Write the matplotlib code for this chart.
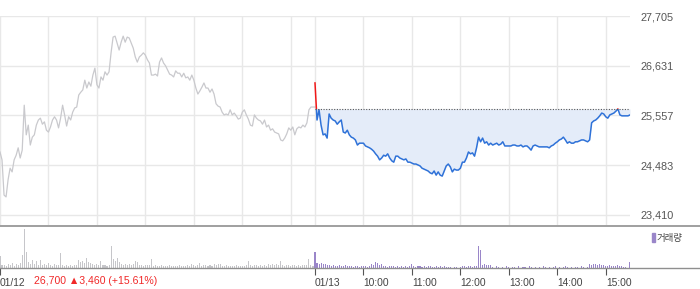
import matplotlib
matplotlib.use("Agg")
import matplotlib.pyplot as plt
from matplotlib.patches import Rectangle
from matplotlib.lines import Line2D
import numpy as np

# ---------------- data ----------------
step_min = 2.5          # minutes between samples
session_min = 390       # 09:00 - 15:30

prev_price = [
    24770, 24600, 23840, 23800, 24170, 24420, 24340, 24600, 24700, 24860,
    24640, 24810, 25780, 25140, 25350, 24920, 25090, 25140, 25350, 25460,
    25500, 25370, 25420, 25240, 25200, 25310, 25460, 25530, 25460, 25290,
    25500, 25780, 25570, 25330, 25530, 25460, 25630, 25720, 25740, 26000,
    26060, 26110, 26320, 26150, 26280, 26190, 26430, 26580, 26220, 26150,
    26390, 26320, 26500, 26430, 26500, 26910, 27250, 27270, 27120, 26970,
    27140, 27270, 27140, 27250, 27230, 27120, 27010, 26820, 26710, 26820,
    26860, 26910, 26860, 26760, 26690, 26430, 26430, 26450, 26410, 26710,
    26800, 26690, 26630, 26540, 26450, 26430, 26390, 26520, 26470, 26470,
    26390, 26470, 26370, 26390, 26320, 26430, 26320, 26150, 26020, 26090,
    26170, 26260, 26150, 26150, 26060, 26130, 26020, 25810, 25760, 25740,
    25630, 25570, 25590, 25570, 25680, 25570, 25610, 25550, 25480, 25500,
    25630, 25680, 25570, 25480, 25350, 25330, 25570, 25500, 25460, 25440,
    25370, 25460, 25310, 25350, 25240, 25270, 25200, 25180, 25160, 25030,
    25010, 25070, 25160, 25290, 25240, 25310, 25140, 25270, 25310, 25290,
    25350, 25310, 25400, 25680, 25740, 25740, 25740,
]

today_price = [
    26260, 25460, 25680, 25350, 25140, 25160, 25070, 25590, 25500, 25460,
    25440, 25370, 25420, 25460, 25200, 25180, 25240, 25140, 25090, 25070,
    25030, 24920, 24960, 24960, 24960, 24900, 24880, 24860, 24830, 24790,
    24730, 24680, 24600, 24640, 24700, 24680, 24730, 24640, 24580, 24550,
    24680, 24680, 24640, 24620, 24600, 24620, 24550, 24550, 24530, 24510,
    24510, 24490, 24470, 24420, 24400, 24380, 24360, 24320, 24300, 24360,
    24270, 24340, 24270, 24250, 24360, 24470, 24510, 24450, 24340, 24400,
    24380, 24380, 24420, 24550, 24550, 24640, 24770, 24730, 24750, 24680,
    24860, 25090, 24990, 25070, 24960, 24990, 24920, 24960, 24920, 24940,
    24960, 24920, 24940, 24990, 24900, 24900, 24900, 24900, 24920, 24920,
    24900, 24900, 24920, 24880, 24900, 24900, 24860, 24810, 24900, 24920,
    24900, 24880, 24880, 24880, 24880, 24880, 24860, 24900, 24920, 24960,
    24990, 25030, 25050, 25090, 25030, 24960, 24990, 24960, 24960, 24990,
    24990, 25010, 25030, 25030, 25010, 24990, 25030, 25400, 25440, 25460,
    25500, 25550, 25610, 25590, 25530, 25500, 25570, 25590, 25610, 25650,
    25700, 25570, 25550, 25550, 25550, 25550, 25570,
]

base_price = 25700

prev_vol = [
    11, 3, 3, 2, 4, 3, 5, 2, 4, 3, 5, 12, 37, 15, 6, 4, 8, 4, 7, 3,
    8, 3, 4, 3, 5, 3, 2, 4, 3, 3, 14, 3, 2, 3, 2, 3, 2, 3, 3, 8,
    6, 7, 5, 10, 6, 5, 4, 3, 4, 3, 7, 3, 3, 2, 3, 21, 9, 7, 10, 6,
    4, 3, 4, 3, 4, 3, 4, 7, 6, 3, 3, 2, 3, 3, 3, 9, 2, 3, 2, 2,
    3, 2, 2, 2, 3, 2, 2, 2, 2, 3, 2, 2, 2, 3, 2, 4, 3, 2, 3, 5,
    2, 3, 3, 2, 3, 2, 4, 3, 4, 4, 2, 2, 3, 2, 2, 2, 2, 3, 2, 2,
    2, 2, 3, 7, 3, 2, 3, 3, 2, 3, 2, 3, 2, 4, 3, 4, 3, 4, 3, 7,
    3, 2, 3, 3, 2, 3, 3, 2, 3, 2, 3, 3, 3, 9, 3, 2, 3,
]

today_vol = [
    15, 5, 4, 5, 4, 4, 3, 3, 2, 3, 2, 2, 3, 2, 2, 3, 2, 2, 2, 1,
    2, 2, 1, 2, 2, 2, 1, 2, 4, 3, 6, 5, 3, 4, 2, 2, 1, 2, 2, 2,
    1, 2, 1, 2, 1, 2, 1, 2, 4, 2, 1, 2, 2, 1, 2, 1, 2, 2, 1, 1,
    2, 1, 2, 1, 2, 1, 1, 1, 0, 1, 1, 0, 1, 2, 2, 1, 2, 2, 1, 2,
    2, 21, 17, 3, 4, 3, 3, 3, 1, 0, 2, 1, 0, 1, 0, 2, 1, 0, 1, 1,
    0, 2, 0, 1, 1, 0, 2, 1, 0, 1, 0, 1, 0, 2, 1, 0, 1, 0, 1, 2,
    0, 1, 0, 1, 2, 1, 0, 1, 0, 1, 1, 0, 2, 1, 0, 1, 4, 3, 4, 4,
    3, 4, 3, 3, 2, 2, 3, 2, 2, 2, 3, 2, 2, 1, 1, 0, 6,
]

y_ticks = [23410, 24483.75, 25557.5, 26631.25, 27705]
y_labels = ["23,410", "24,483", "25,557", "26,631", "27,705"]

x_tick_labels = ["01/12", "01/13", "10:00", "11:00", "12:00", "13:00", "14:00", "15:00"]
x_tick_mins = [0, 390, 450, 510, 570, 630, 690, 750]
prev_grid_mins = [0, 60, 120, 180, 240, 300, 360]

header_text = "26,700 \u25b23,460 (+15.61%)"
legend_text = "\u1100\u1165\u1105\u1162\u1105\u1163\u11bc"
legend_text = "거래량"

# ---------------- figure ----------------
W, H = 700, 289
fig = plt.figure(figsize=(W / 100, H / 100), dpi=100)
fig.patch.set_facecolor("white")

def fx(px):
    return px / W

def fy(py):
    return 1 - py / H

ax = fig.add_axes([0, fy(225), fx(630), (225 - 16) / H])
axv = fig.add_axes([0, fy(268), fx(630), (268 - 226) / H])

x_prev = np.arange(len(prev_price)) * step_min
x_today = session_min + np.arange(len(today_price)) * step_min
xv_prev = np.arange(len(prev_vol)) * step_min
xv_today = session_min + np.arange(len(today_vol)) * step_min

xmin, xmax = 0, 780
ymin, ymax = 23194, 27705

# grid
grid_c = "#e8e8e8"
for yv in y_ticks:
    ax.axhline(yv, color=grid_c, lw=1, zorder=0)
for xm in prev_grid_mins + x_tick_mins[1:]:
    ax.axvline(xm, color=grid_c, lw=1, zorder=0)

# fill today
tp = np.array(today_price, dtype=float)
ax.fill_between(x_today, tp, base_price, where=tp <= base_price, interpolate=True,
                color="#e4ecf9", lw=0, zorder=1)
ax.fill_between(x_today, tp, base_price, where=tp >= base_price, interpolate=True,
                color="#fbe6e6", lw=0, zorder=1)

# previous day line
ax.plot(x_prev, prev_price, color="#c9c9cd", lw=0.9, zorder=2)

# today line: red above base, blue below
l_blue, = ax.plot(x_today, tp, color="#2f72d8", lw=1.1, zorder=3)
l_red, = ax.plot(x_today, tp, color="#f01818", lw=1.1, zorder=3)
clip_low = Rectangle((xmin, ymin), xmax - xmin, base_price - ymin, transform=ax.transData)
clip_high = Rectangle((xmin, base_price), xmax - xmin, ymax - base_price, transform=ax.transData)
l_blue.set_clip_path(clip_low)
l_red.set_clip_path(clip_high)

# dotted base line
ax.plot([session_min, xmax], [base_price, base_price], color="#555555", lw=0.8,
        linestyle=(0, (1, 1.4)), zorder=4)

ax.set_xlim(xmin, xmax)
ax.set_ylim(ymin, ymax)
for s in ax.spines.values():
    s.set_visible(False)
ax.set_xticks([])
ax.yaxis.tick_right()
ax.set_yticks(y_ticks)
ax.set_yticklabels(y_labels)
ax.tick_params(axis="y", length=0, pad=7.5, labelsize=7.8, labelcolor="#555555")
for lbl in ax.get_yticklabels():
    lbl.set_fontfamily(["Liberation Sans", "DejaVu Sans"])

# volume
axv.bar(xv_prev, prev_vol, width=1.3, color="#c6c6ca", lw=0)
axv.bar(xv_today, today_vol, width=1.3, color="#9a86c9", lw=0)
axv.set_xlim(xmin, xmax)
axv.set_ylim(0, 40)
for s in axv.spines.values():
    s.set_visible(False)
axv.set_yticks([])
axv.set_xticks(x_tick_mins)
axv.set_xticklabels(x_tick_labels)
axv.tick_params(axis="x", length=5, width=0.8, color="#555555", pad=2.5,
                labelsize=7.4, labelcolor="#444444")
for lbl in axv.get_xticklabels():
    lbl.set_horizontalalignment("left")
    lbl.set_fontfamily(["Liberation Sans", "DejaVu Sans"])

# separators spanning full width
fig.add_artist(Line2D([0, 1], [fy(225.5), fy(225.5)], color="#8f8f8f", lw=1.2))
fig.add_artist(Line2D([0, 1], [fy(268), fy(268)], color="#8f8f8f", lw=1.0))

# header text (red)
fig.text(fx(34), fy(281), header_text, color="#f02828", fontsize=7.6,
         family=["Liberation Sans", "DejaVu Sans"], va="center", ha="left")

# legend
fig.add_artist(Rectangle((fx(652), fy(242)), fx(3), 9 / H, color="#9a86c9",
                         transform=fig.transFigure))
fig.text(fx(657), fy(238), legend_text, color="#444444", fontsize=6.8,
         family=["Noto Sans CJK KR", "DejaVu Sans"], va="center", ha="left")

fig.savefig("out.png", dpi=100, facecolor="white")
